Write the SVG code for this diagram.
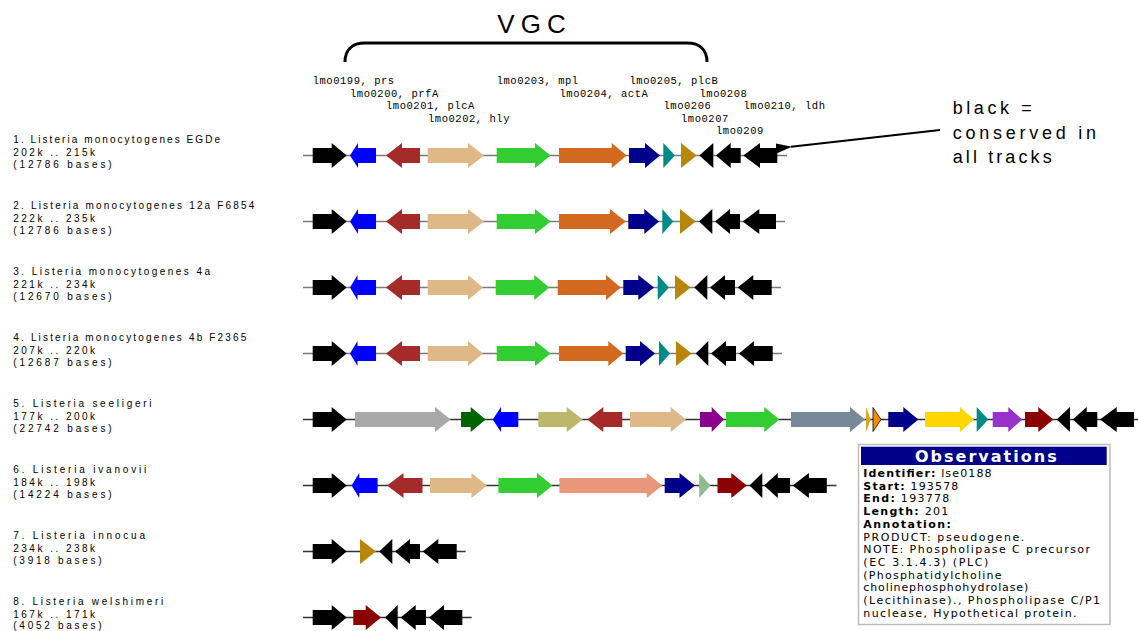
<svg xmlns="http://www.w3.org/2000/svg" width="1138" height="631" viewBox="0 0 1138 631">
<style>
.lbl{font-family:"Liberation Sans",Arial,sans-serif;font-size:10px;fill:#000}
.gl{font-family:"Liberation Mono","Courier New",monospace;font-size:10.5px;letter-spacing:0.53px;fill:#000}
.big{font-family:"Liberation Sans",Arial,sans-serif;font-size:18px;fill:#000}
.axl{stroke:#7a7a7a;stroke-width:1.5}
.axd{stroke:#333;stroke-width:1.3}
.k{fill:#000}.bl{fill:#0000FF}.br{fill:#A52A2A}.tn{fill:#DEB887}.lg{fill:#32CD32}.ch{fill:#D2691E}
.nv{fill:#00008B}.tl{fill:#008B8B}.dg{fill:#B8860B}.gy{fill:#A9A9A9}.gr{fill:#006400}.kh{fill:#BDB76B}
.mg{fill:#8B008B}.sl{fill:#778899}.gd{fill:#DAA520}.or{fill:#FF8C00;stroke:#000;stroke-width:0.8}
.yl{fill:#FFD700}.oc{fill:#9932CC}.dr{fill:#8B0000}.sa{fill:#E9967A}.sg{fill:#8FBC8F}
.ob{font-family:"DejaVu Sans",Verdana,sans-serif;font-size:11px;fill:#000}
.obt{font-family:"DejaVu Sans",Verdana,sans-serif;font-size:16px;font-weight:bold;fill:#fff}
</style>
<defs>
<marker id="ah" markerWidth="16" markerHeight="10" refX="1" refY="5" orient="auto" markerUnits="userSpaceOnUse">
<path d="M16,0 L0,5 L16,10 Z" fill="#000"/>
</marker>
</defs>

<g id="title">
<text x="497.3" y="33" font-family="Liberation Sans,Arial,sans-serif" font-size="26" textLength="68.4" lengthAdjust="spacing">VGC</text>
<path d="M345,62 C345,50 352,43 365,43 L687,43 C700,43 707,50 707,62" fill="none" stroke="#000" stroke-width="3"/>
</g>

<g id="gene-labels">
<text class="gl" x="312.7" y="84">lmo0199, prs</text>
<text class="gl" x="496.7" y="84">lmo0203, mpl</text>
<text class="gl" x="629.5" y="84">lmo0205, plcB</text>
<text class="gl" x="350" y="96.5">lmo0200, prfA</text>
<text class="gl" x="559.5" y="96.5">lmo0204, actA</text>
<text class="gl" x="699.5" y="96.5">lmo0208</text>
<text class="gl" x="386" y="109">lmo0201, plcA</text>
<text class="gl" x="663.5" y="109">lmo0206</text>
<text class="gl" x="743.5" y="109">lmo0210, ldh</text>
<text class="gl" x="428" y="121.5">lmo0202, hly</text>
<text class="gl" x="681" y="121.5">lmo0207</text>
<text class="gl" x="716" y="134">lmo0209</text>
</g>

<g id="note">
<text class="big" x="952.7" y="113.5" textLength="79" lengthAdjust="spacing">black =</text>
<text class="big" x="952.7" y="139" textLength="143.3" lengthAdjust="spacing">conserved in</text>
<text class="big" x="952.7" y="163" textLength="99" lengthAdjust="spacing">all tracks</text>
</g>

<g id="connectors">
<line x1="940" y1="130" x2="791" y2="146.8" stroke="#000" stroke-width="2" marker-end="url(#ah)"/>
</g>

<g id="track1">
<text class="lbl" x="13.3" y="143" textLength="206.7" lengthAdjust="spacing">1. Listeria monocytogenes EGDe</text>
<text class="lbl" x="13.3" y="156" textLength="81.7" lengthAdjust="spacing">202k .. 215k</text>
<text class="lbl" x="13.3" y="167.5" textLength="98.3" lengthAdjust="spacing">(12786 bases)</text>
<g transform="translate(0,155.5)">
<line class="axl" x1="303" y1="0" x2="787" y2="0"/>
<polygon class="k" points="312.7,-7.5 331.7,-7.5 331.7,-12.5 346.7,0 331.7,12.5 331.7,7.5 312.7,7.5"/>
<polygon class="bl" points="376,-7.5 358,-7.5 358,-12.5 350,0 358,12.5 358,7.5 376,7.5"/>
<polygon class="br" points="420,-7.5 402,-7.5 402,-12.5 386,0 402,12.5 402,7.5 420,7.5"/>
<polygon class="tn" points="427.7,-7.5 468,-7.5 468,-12.5 484,0 468,12.5 468,7.5 427.7,7.5"/>
<polygon class="lg" points="496.7,-7.5 535,-7.5 535,-12.5 550.7,0 535,12.5 535,7.5 496.7,7.5"/>
<polygon class="ch" points="559,-7.5 611.7,-7.5 611.7,-12.5 626.7,0 611.7,12.5 611.7,7.5 559,7.5"/>
<polygon class="nv" points="629,-7.5 645,-7.5 645,-12.5 660,0 645,12.5 645,7.5 629,7.5"/>
<polygon class="tl" points="663.3,-12.5 675,0 663.3,12.5"/>
<polygon class="dg" points="681,-12.5 696.7,0 681,12.5"/>
<polygon class="k" points="713.3,-12.5 699.3,0 713.3,12.5"/>
<polygon class="k" points="740.7,-7.5 730.7,-7.5 730.7,-12.5 716,0 730.7,12.5 730.7,7.5 740.7,7.5"/>
<polygon class="k" points="777.3,-7.5 760,-7.5 760,-12.5 743.3,0 760,12.5 760,7.5 777.3,7.5"/>
</g>
</g>

<g id="track2">
<text class="lbl" x="13.3" y="209" textLength="241" lengthAdjust="spacing">2. Listeria monocytogenes 12a F6854</text>
<text class="lbl" x="13.3" y="222" textLength="81.7" lengthAdjust="spacing">222k .. 235k</text>
<text class="lbl" x="13.3" y="233.5" textLength="98.3" lengthAdjust="spacing">(12786 bases)</text>
<g transform="translate(0,221.5)">
<line class="axl" x1="303" y1="0" x2="785" y2="0"/>
<polygon class="k" points="312.7,-7.5 331.7,-7.5 331.7,-12.5 346.7,0 331.7,12.5 331.7,7.5 312.7,7.5"/>
<polygon class="bl" points="376,-7.5 358,-7.5 358,-12.5 350,0 358,12.5 358,7.5 376,7.5"/>
<polygon class="br" points="420,-7.5 402,-7.5 402,-12.5 386,0 402,12.5 402,7.5 420,7.5"/>
<polygon class="tn" points="427.7,-7.5 468,-7.5 468,-12.5 484,0 468,12.5 468,7.5 427.7,7.5"/>
<polygon class="lg" points="496.7,-7.5 535,-7.5 535,-12.5 550.7,0 535,12.5 535,7.5 496.7,7.5"/>
<polygon class="ch" points="559,-7.5 610,-7.5 610,-12.5 625.7,0 610,12.5 610,7.5 559,7.5"/>
<polygon class="nv" points="628.3,-7.5 644.3,-7.5 644.3,-12.5 659,0 644.3,12.5 644.3,7.5 628.3,7.5"/>
<polygon class="tl" points="662.3,-12.5 673.3,0 662.3,12.5"/>
<polygon class="dg" points="680,-12.5 695.7,0 680,12.5"/>
<polygon class="k" points="712.3,-12.5 699,0 712.3,12.5"/>
<polygon class="k" points="740,-7.5 730,-7.5 730,-12.5 715,0 730,12.5 730,7.5 740,7.5"/>
<polygon class="k" points="776,-7.5 759.3,-7.5 759.3,-12.5 742.7,0 759.3,12.5 759.3,7.5 776,7.5"/>
</g>
</g>

<g id="track3">
<text class="lbl" x="13.3" y="275" textLength="196.7" lengthAdjust="spacing">3. Listeria monocytogenes 4a</text>
<text class="lbl" x="13.3" y="288" textLength="81.7" lengthAdjust="spacing">221k .. 234k</text>
<text class="lbl" x="13.3" y="299.5" textLength="98.3" lengthAdjust="spacing">(12670 bases)</text>
<g transform="translate(0,287.5)">
<line class="axl" x1="303" y1="0" x2="781" y2="0"/>
<polygon class="k" points="312.7,-7.5 331.7,-7.5 331.7,-12.5 346.7,0 331.7,12.5 331.7,7.5 312.7,7.5"/>
<polygon class="bl" points="376,-7.5 357.5,-7.5 357.5,-12.5 350,0 357.5,12.5 357.5,7.5 376,7.5"/>
<polygon class="br" points="420,-7.5 402,-7.5 402,-12.5 386,0 402,12.5 402,7.5 420,7.5"/>
<polygon class="tn" points="427.7,-7.5 468,-7.5 468,-12.5 483,0 468,12.5 468,7.5 427.7,7.5"/>
<polygon class="lg" points="495.7,-7.5 534.3,-7.5 534.3,-12.5 549.3,0 534.3,12.5 534.3,7.5 495.7,7.5"/>
<polygon class="ch" points="557.7,-7.5 606,-7.5 606,-12.5 620.7,0 606,12.5 606,7.5 557.7,7.5"/>
<polygon class="nv" points="623.3,-7.5 638.3,-7.5 638.3,-12.5 654,0 638.3,12.5 638.3,7.5 623.3,7.5"/>
<polygon class="tl" points="657.7,-12.5 669,0 657.7,12.5"/>
<polygon class="dg" points="675,-12.5 690.7,0 675,12.5"/>
<polygon class="k" points="707.3,-12.5 694.3,0 707.3,12.5"/>
<polygon class="k" points="735,-7.5 725,-7.5 725,-12.5 710,0 725,12.5 725,7.5 735,7.5"/>
<polygon class="k" points="771.7,-7.5 753.3,-7.5 753.3,-12.5 737.7,0 753.3,12.5 753.3,7.5 771.7,7.5"/>
</g>
</g>

<g id="track4">
<text class="lbl" x="13.3" y="341" textLength="233" lengthAdjust="spacing">4. Listeria monocytogenes 4b F2365</text>
<text class="lbl" x="13.3" y="354" textLength="81.7" lengthAdjust="spacing">207k .. 220k</text>
<text class="lbl" x="13.3" y="365.5" textLength="98.3" lengthAdjust="spacing">(12687 bases)</text>
<g transform="translate(0,353.5)">
<line class="axl" x1="303" y1="0" x2="782" y2="0"/>
<polygon class="k" points="312.7,-7.5 331.7,-7.5 331.7,-12.5 346.7,0 331.7,12.5 331.7,7.5 312.7,7.5"/>
<polygon class="bl" points="376,-7.5 357.5,-7.5 357.5,-12.5 350,0 357.5,12.5 357.5,7.5 376,7.5"/>
<polygon class="br" points="420,-7.5 402,-7.5 402,-12.5 386,0 402,12.5 402,7.5 420,7.5"/>
<polygon class="tn" points="427.7,-7.5 468,-7.5 468,-12.5 483,0 468,12.5 468,7.5 427.7,7.5"/>
<polygon class="lg" points="496.7,-7.5 535,-7.5 535,-12.5 550.7,0 535,12.5 535,7.5 496.7,7.5"/>
<polygon class="ch" points="559,-7.5 608.3,-7.5 608.3,-12.5 623.3,0 608.3,12.5 608.3,7.5 559,7.5"/>
<polygon class="nv" points="625.7,-7.5 640,-7.5 640,-12.5 655,0 640,12.5 640,7.5 625.7,7.5"/>
<polygon class="tl" points="659,-12.5 670,0 659,12.5"/>
<polygon class="dg" points="676,-12.5 691.7,0 676,12.5"/>
<polygon class="k" points="708.3,-12.5 695.7,0 708.3,12.5"/>
<polygon class="k" points="736,-7.5 726,-7.5 726,-12.5 711,0 726,12.5 726,7.5 736,7.5"/>
<polygon class="k" points="772.7,-7.5 754,-7.5 754,-12.5 739,0 754,12.5 754,7.5 772.7,7.5"/>
</g>
</g>

<g id="track5">
<text class="lbl" x="13.3" y="407" textLength="138.3" lengthAdjust="spacing">5. Listeria seeligeri</text>
<text class="lbl" x="13.3" y="420" textLength="81.7" lengthAdjust="spacing">177k .. 200k</text>
<text class="lbl" x="13.3" y="431.5" textLength="98.3" lengthAdjust="spacing">(22742 bases)</text>
<g transform="translate(0,419.5)">
<line class="axd" x1="303" y1="0" x2="1138" y2="0"/>
<polygon class="k" points="312.7,-7.5 331.7,-7.5 331.7,-12.5 346.7,0 331.7,12.5 331.7,7.5 312.7,7.5"/>
<polygon class="gy" points="355,-7.5 435,-7.5 435,-12.5 450.7,0 435,12.5 435,7.5 355,7.5"/>
<polygon class="gr" points="461,-7.5 470.7,-7.5 470.7,-12.5 485.7,0 470.7,12.5 470.7,7.5 461,7.5"/>
<polygon class="bl" points="518.3,-7.5 501,-7.5 501,-12.5 492.7,0 501,12.5 501,7.5 518.3,7.5"/>
<polygon class="kh" points="538.3,-7.5 566.7,-7.5 566.7,-12.5 582.7,0 566.7,12.5 566.7,7.5 538.3,7.5"/>
<polygon class="br" points="622.3,-7.5 603.3,-7.5 603.3,-12.5 587.3,0 603.3,12.5 603.3,7.5 622.3,7.5"/>
<polygon class="tn" points="630,-7.5 670.7,-7.5 670.7,-12.5 686,0 670.7,12.5 670.7,7.5 630,7.5"/>
<polygon class="mg" points="700,-7.5 711.7,-7.5 711.7,-12.5 724,0 711.7,12.5 711.7,7.5 700,7.5"/>
<polygon class="lg" points="726,-7.5 764.3,-7.5 764.3,-12.5 779.3,0 764.3,12.5 764.3,7.5 726,7.5"/>
<polygon class="sl" points="791,-7.5 850,-7.5 850,-12.5 865,0 850,12.5 850,7.5 791,7.5"/>
<polygon class="gd" points="866,-12.5 870.7,0 866,12.5"/>
<polygon class="or" points="873,-12 881,0 873,12"/>
<polygon class="nv" points="888.3,-7.5 903.3,-7.5 903.3,-12.5 918.3,0 903.3,12.5 903.3,7.5 888.3,7.5"/>
<polygon class="yl" points="925,-7.5 960,-7.5 960,-12.5 974,0 960,12.5 960,7.5 925,7.5"/>
<polygon class="tl" points="976.7,-12.5 988.3,0 976.7,12.5"/>
<polygon class="oc" points="992.7,-7.5 1008.3,-7.5 1008.3,-12.5 1022.3,0 1008.3,12.5 1008.3,7.5 992.7,7.5"/>
<polygon class="dr" points="1025,-7.5 1038.3,-7.5 1038.3,-12.5 1053.3,0 1038.3,12.5 1038.3,7.5 1025,7.5"/>
<polygon class="k" points="1070,-12.5 1056.7,0 1070,12.5"/>
<polygon class="k" points="1097.3,-7.5 1086.7,-7.5 1086.7,-12.5 1072.7,0 1086.7,12.5 1086.7,7.5 1097.3,7.5"/>
<polygon class="k" points="1134,-7.5 1116.7,-7.5 1116.7,-12.5 1100,0 1116.7,12.5 1116.7,7.5 1134,7.5"/>
</g>
</g>

<g id="track6">
<text class="lbl" x="13.3" y="473" textLength="133" lengthAdjust="spacing">6. Listeria ivanovii</text>
<text class="lbl" x="13.3" y="486" textLength="81.7" lengthAdjust="spacing">184k .. 198k</text>
<text class="lbl" x="13.3" y="497.5" textLength="98.3" lengthAdjust="spacing">(14224 bases)</text>
<g transform="translate(0,485.5)">
<line class="axd" x1="303" y1="0" x2="836.5" y2="0"/>
<polygon class="k" points="312.7,-7.5 331.7,-7.5 331.7,-12.5 346.7,0 331.7,12.5 331.7,7.5 312.7,7.5"/>
<polygon class="bl" points="377.6,-7.5 359.3,-7.5 359.3,-12.5 351.5,0 359.3,12.5 359.3,7.5 377.6,7.5"/>
<polygon class="br" points="422.5,-7.5 403.5,-7.5 403.5,-12.5 387,0 403.5,12.5 403.5,7.5 422.5,7.5"/>
<polygon class="tn" points="430,-7.5 471.5,-7.5 471.5,-12.5 487,0 471.5,12.5 471.5,7.5 430,7.5"/>
<polygon class="lg" points="498.4,-7.5 537,-7.5 537,-12.5 552.5,0 537,12.5 537,7.5 498.4,7.5"/>
<polygon class="sa" points="559.4,-7.5 646.7,-7.5 646.7,-12.5 662.3,0 646.7,12.5 646.7,7.5 559.4,7.5"/>
<polygon class="nv" points="664.7,-7.5 679.5,-7.5 679.5,-12.5 695,0 679.5,12.5 679.5,7.5 664.7,7.5"/>
<polygon class="sg" points="699.2,-12.5 710.6,0 699.2,12.5"/>
<polygon class="dr" points="717.5,-7.5 731.3,-7.5 731.3,-12.5 746.8,0 731.3,12.5 731.3,7.5 717.5,7.5"/>
<polygon class="k" points="762.3,-12.5 749.5,0 762.3,12.5"/>
<polygon class="k" points="790,-7.5 777.8,-7.5 777.8,-12.5 764,0 777.8,12.5 777.8,7.5 790,7.5"/>
<polygon class="k" points="826.8,-7.5 808.9,-7.5 808.9,-12.5 792.7,0 808.9,12.5 808.9,7.5 826.8,7.5"/>
</g>
</g>

<g id="track7">
<text class="lbl" x="13.3" y="539" textLength="131.7" lengthAdjust="spacing">7. Listeria innocua</text>
<text class="lbl" x="13.3" y="552" textLength="81.7" lengthAdjust="spacing">234k .. 238k</text>
<text class="lbl" x="13.3" y="563.5" textLength="88.3" lengthAdjust="spacing">(3918 bases)</text>
<g transform="translate(0,551.5)">
<line class="axd" x1="303" y1="0" x2="465.7" y2="0"/>
<polygon class="k" points="312.7,-7.5 331.7,-7.5 331.7,-12.5 346.7,0 331.7,12.5 331.7,7.5 312.7,7.5"/>
<polygon class="dg" points="360,-12.5 376,0 360,12.5"/>
<polygon class="k" points="392.3,-12.5 379.3,0 392.3,12.5"/>
<polygon class="k" points="420,-7.5 410,-7.5 410,-12.5 395,0 410,12.5 410,7.5 420,7.5"/>
<polygon class="k" points="456.7,-7.5 438.3,-7.5 438.3,-12.5 422.7,0 438.3,12.5 438.3,7.5 456.7,7.5"/>
</g>
</g>

<g id="track8">
<text class="lbl" x="13.3" y="605" textLength="150" lengthAdjust="spacing">8. Listeria welshimeri</text>
<text class="lbl" x="13.3" y="618" textLength="81.7" lengthAdjust="spacing">167k .. 171k</text>
<text class="lbl" x="13.3" y="629" textLength="88.3" lengthAdjust="spacing">(4052 bases)</text>
<g transform="translate(0,617.5)">
<line class="axd" x1="303" y1="0" x2="471.7" y2="0"/>
<polygon class="k" points="312.7,-7.5 331.7,-7.5 331.7,-12.5 346.7,0 331.7,12.5 331.7,7.5 312.7,7.5"/>
<polygon class="dr" points="353.3,-7.5 365.7,-7.5 365.7,-12.5 381,0 365.7,12.5 365.7,7.5 353.3,7.5"/>
<polygon class="k" points="397.7,-12.5 385,0 397.7,12.5"/>
<polygon class="k" points="426,-7.5 415.7,-7.5 415.7,-12.5 400.7,0 415.7,12.5 415.7,7.5 426,7.5"/>
<polygon class="k" points="462.3,-7.5 444,-7.5 444,-12.5 429,0 444,12.5 444,7.5 462.3,7.5"/>
</g>
</g>

<g id="observations">
<rect x="858.5" y="444.5" width="251.5" height="180" fill="#fff" stroke="#bdbdbd" stroke-width="1.5"/>
<rect x="861" y="446.7" width="245.7" height="18.3" fill="#00008B"/>
<text class="obt" x="915" y="461.7" textLength="141.7" lengthAdjust="spacing">Observations</text>
<text class="ob" x="863.3" y="477" textLength="128.3" lengthAdjust="spacing"><tspan font-weight="bold">Identifier:</tspan> lse0188</text>
<text class="ob" x="863.3" y="489.7" textLength="95" lengthAdjust="spacing"><tspan font-weight="bold">Start:</tspan> 193578</text>
<text class="ob" x="863.3" y="502.4" textLength="86" lengthAdjust="spacing"><tspan font-weight="bold">End:</tspan> 193778</text>
<text class="ob" x="863.3" y="515.1" textLength="85" lengthAdjust="spacing"><tspan font-weight="bold">Length:</tspan> 201</text>
<text class="ob" x="863.3" y="527.8" font-weight="bold" textLength="87.7" lengthAdjust="spacing">Annotation:</text>
<text class="ob" x="863.3" y="540.5" textLength="161" lengthAdjust="spacing">PRODUCT: pseudogene.</text>
<text class="ob" x="863.3" y="553.2" textLength="226.7" lengthAdjust="spacing">NOTE: Phospholipase C precursor</text>
<text class="ob" x="863.3" y="565.9" textLength="125" lengthAdjust="spacing">(EC 3.1.4.3) (PLC)</text>
<text class="ob" x="863.3" y="578.6" textLength="138.3" lengthAdjust="spacing">(Phosphatidylcholine</text>
<text class="ob" x="863.3" y="591.3" textLength="165" lengthAdjust="spacing">cholinephosphohydrolase)</text>
<text class="ob" x="863.3" y="604" textLength="236.7" lengthAdjust="spacing">(Lecithinase)., Phospholipase C/P1</text>
<text class="ob" x="863.3" y="616.7" textLength="213.3" lengthAdjust="spacing">nuclease, Hypothetical protein.</text>
</g>
</svg>
